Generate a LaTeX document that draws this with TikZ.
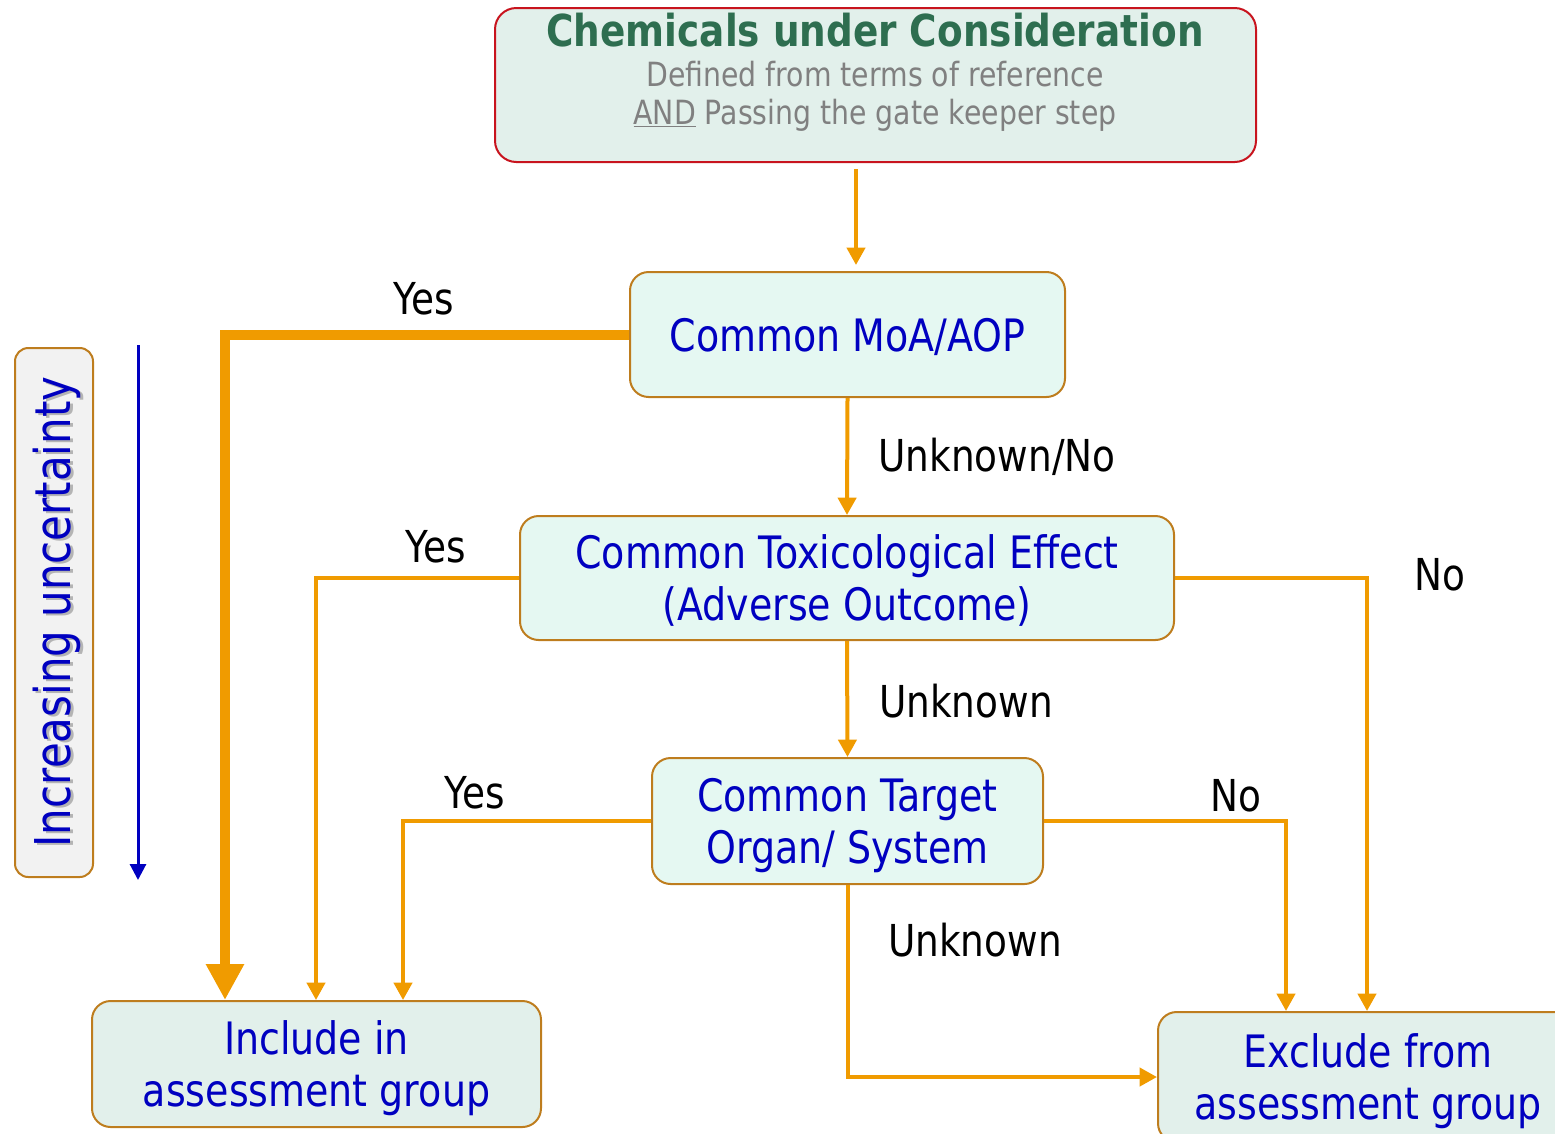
\documentclass[tikz,border=0pt]{standalone}
\usepackage{fontspec}
\setmainfont{DejaVu Sans}[FakeStretch=0.85]
\usetikzlibrary{arrows.meta,calc}

\definecolor{flowor}{RGB}{240,155,0}
\definecolor{boxedge}{RGB}{190,125,30}
\definecolor{mint}{RGB}{229,248,242}
\definecolor{sage}{RGB}{226,240,235}
\definecolor{txtblue}{RGB}{0,0,192}
\definecolor{titlegreen}{RGB}{46,110,80}
\definecolor{rededge}{RGB}{200,20,30}
\definecolor{subgray}{RGB}{128,128,128}
\definecolor{panelgray}{RGB}{242,242,242}

\tikzset{
  box/.style={draw=boxedge, line width=1.5pt, rounded corners=14pt, inner sep=0pt,
    align=center, text=txtblue, text depth=0pt, font=\fontsize{33.5}{39}\selectfont},
  mintbox/.style={box, fill=mint},
  sagebox/.style={box, fill=sage},
  lbl/.style={font=\fontsize{33}{39}\selectfont, text=black, inner sep=0pt, anchor=base},
  flow/.style={draw=flowor, line width=3pt, -{Triangle[length=13pt,width=13.5pt]}},
  bigflow/.style={draw=flowor, line width=7.5pt, -{Triangle[length=27pt,width=27pt]}},
}

\begin{document}
\begin{tikzpicture}[x=0.75pt,y=-0.75pt]
\useasboundingbox (0,0) rectangle (1555,1133);

% header box
\node (top) [sagebox, draw=rededge, rounded corners=16pt,
  minimum width=761*0.75pt, minimum height=154*0.75pt] at (875.5,85) {};
\node (toptitle) [inner sep=0pt, anchor=base, text=titlegreen,
  font=\bfseries\fontsize{33}{39}\selectfont] at (875,46) {Chemicals under Consideration};
\node (topsub) [inner sep=0pt, align=center, text=subgray,
  font=\fontsize{25}{28.5}\selectfont] at (875,96)
  {Defined from terms of reference\\\underline{AND} Passing the gate keeper step};

% decision boxes
\node (moa) [mintbox, minimum width=435*0.75pt, minimum height=125*0.75pt]
  at (847.5,334.5) {Common MoA/AOP};
\node (tox) [mintbox, minimum width=654*0.75pt, minimum height=124*0.75pt]
  at (847,578) {Common Toxicological Effect\\(Adverse Outcome)};
\node (target) [mintbox, minimum width=391*0.75pt, minimum height=126*0.75pt]
  at (847.5,821) {Common Target\\Organ/ System};

% outcome boxes
\node (incl) [sagebox, minimum width=449*0.75pt, minimum height=126*0.75pt]
  at (316.5,1064) {Include in\\assessment group};
\node (excl) [sagebox, minimum width=420*0.75pt, minimum height=130*0.75pt]
  at (1368,1077) {Exclude from\\assessment group};

% uncertainty panel
\node (unc) [draw=boxedge, fill=panelgray, line width=1.5pt, rounded corners=10pt,
  minimum width=78*0.75pt, minimum height=529*0.75pt, inner sep=0pt] at (54,612.5) {};
\node (uncshadow) [rotate=90, inner sep=0pt, text=black!45, opacity=0.6,
  font=\fontsize{37}{40}\selectfont] at (60,614) {Increasing uncertainty};
\node (unctext) [rotate=90, inner sep=0pt, text=txtblue,
  font=\fontsize{37}{40}\selectfont] at (57,612) {Increasing uncertainty};
\coordinate (ustart) at (138,345);
\coordinate (uend) at (138,880);
\draw[draw=txtblue, line width=2.25pt, -{Triangle[length=12pt,width=12pt]}] (ustart) -- (uend);

% connectors
\draw[flow] ($(top.south)+(-19.5,6)$) -- ($(moa.north)+(8.5,-6)$);
\draw[bigflow] (moa.west) -| ($(incl.north west)+(134,0)$);
\draw[flow] (moa.south) -- (tox.north);
\draw[flow] (tox.west) -| ($(incl.north west)+(225,0)$);
\draw[flow] (tox.east) -| ($(excl.north west)+(210,0)$);
\draw[flow] (tox.south) -- (target.north);
\draw[flow] (target.west) -| ($(incl.north west)+(312,0)$);
\draw[flow] (target.east) -| ($(excl.north west)+(129,0)$);
\draw[flow] (target.south) |- (excl.west);

% branch labels
\node (yes1) [lbl] at (424,314) {Yes};
\node (unkno) [lbl] at (997,471) {Unknown/No};
\node (yes2) [lbl] at (436,562) {Yes};
\node (no1) [lbl] at (1440,590) {No};
\node (unk1) [lbl] at (966,717) {Unknown};
\node (yes3) [lbl] at (475,808) {Yes};
\node (no2) [lbl] at (1236,811) {No};
\node (unk2) [lbl] at (975,956) {Unknown};
\end{tikzpicture}
\end{document}
